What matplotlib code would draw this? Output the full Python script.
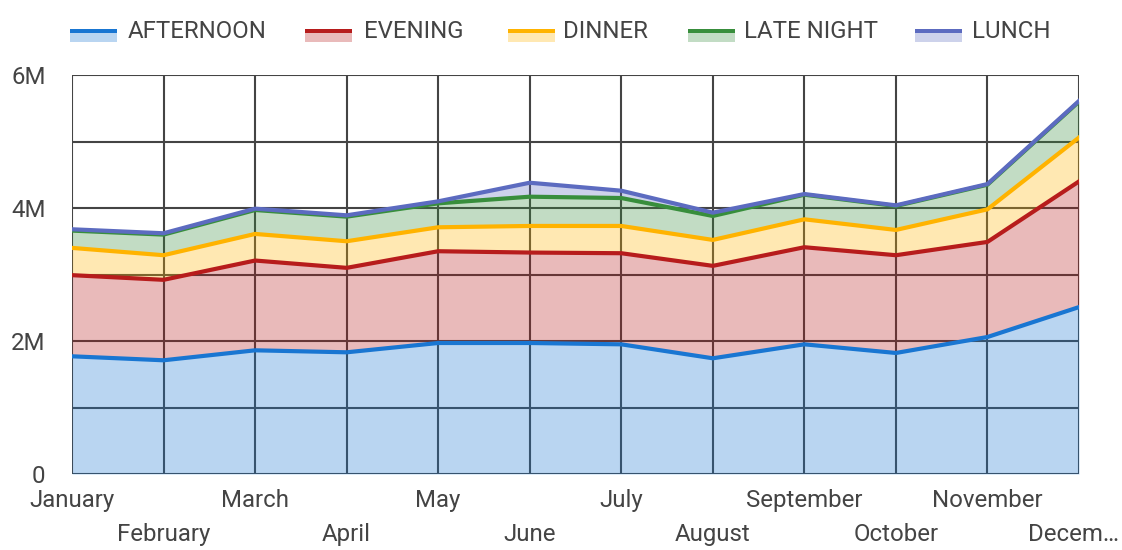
import matplotlib
matplotlib.use("Agg")
import matplotlib.pyplot as plt
import matplotlib.transforms as mtransforms
from matplotlib.patches import Rectangle
import numpy as np

months = ["January", "February", "March", "April", "May", "June", "July",
          "August", "September", "October", "November", "Decem\u2026"]
series_names = ["AFTERNOON", "EVENING", "DINNER", "LATE NIGHT", "LUNCH"]
afternoon = [1.77, 1.71, 1.86, 1.83, 1.97, 1.97, 1.95, 1.74, 1.95, 1.82, 2.06, 2.51]
evening = [1.22, 1.21, 1.35, 1.27, 1.38, 1.36, 1.37, 1.39, 1.46, 1.47, 1.43, 1.89]
dinner = [0.41, 0.37, 0.40, 0.40, 0.36, 0.40, 0.41, 0.39, 0.42, 0.38, 0.49, 0.66]
late_night = [0.26, 0.31, 0.36, 0.37, 0.36, 0.44, 0.42, 0.36, 0.37, 0.36, 0.37, 0.54]
lunch = [0.02, 0.02, 0.02, 0.02, 0.03, 0.21, 0.11, 0.05, 0.01, 0.01, 0.01, 0.01]
yticks = [0, 2, 4, 6]
ytick_labels = ["0", "2M", "4M", "6M"]

line_colors = ["#1976d2", "#b71c1c", "#ffb300", "#388e3c", "#5c6bc0"]

plt.rcParams['font.family'] = ['Roboto', 'DejaVu Sans']
TXT = "#444444"
FS = 17.3

W, H = 1122, 550
fig = plt.figure(figsize=(W / 100, H / 100), dpi=100)
ax = fig.add_axes([72 / W, 1 - 474 / H, (1079 - 72) / W, (474 - 75) / H])

x = np.arange(len(months))
data = np.array([afternoon, evening, dinner, late_night, lunch])
cum = np.cumsum(data, axis=0)

# grid
ax.set_xlim(0, len(months) - 1)
ax.set_ylim(0, 6)
for v in range(0, 7):
    ax.axhline(v, color="#444444", lw=1.5, zorder=0.5)
for xi in x:
    ax.axvline(xi, color="#444444", lw=1.5, zorder=0.5)

prev = np.zeros(len(months))
for i in range(len(series_names)):
    ax.fill_between(x, prev, cum[i], color=line_colors[i], alpha=0.3,
                    lw=0, zorder=1 + i * 0.01)
    prev = cum[i]
for i in range(len(series_names)):
    ax.plot(x, cum[i], color=line_colors[i], lw=3, zorder=3 + i * 0.01,
            solid_joinstyle="round")

for s in ax.spines.values():
    s.set_visible(False)

ax.set_yticks(yticks, ytick_labels)
ax.tick_params(axis="y", length=0, pad=19, labelsize=FS, labelcolor=TXT)
ax.set_xticks(x[0::2], months[0::2])
ax.set_xticks(x[1::2], months[1::2], minor=True)
ax.tick_params(axis="x", which="both", length=0, labelsize=FS, labelcolor=TXT)
ax.tick_params(axis="x", which="major", pad=11)
ax.tick_params(axis="x", which="minor", pad=35)

# nudge the truncated last label so it stays inside the canvas
last = ax.get_xticklabels(minor=True)[-1]
last.set_transform(last.get_transform() +
                   mtransforms.ScaledTranslation(-6 / 100, 0, fig.dpi_scale_trans))

# legend (drawn manually)
sw_x = [70, 305, 508, 688, 915]
tx_x = [128, 364, 563, 744, 972]
for i, name in enumerate(series_names):
    fig.add_artist(Rectangle((sw_x[i] / W, 1 - 42 / H), 47 / W, 12 / H,
                             transform=fig.transFigure, facecolor=line_colors[i],
                             alpha=0.3, lw=0))
    fig.add_artist(Rectangle((sw_x[i] / W, 1 - 33 / H), 47 / W, 4 / H,
                             transform=fig.transFigure, facecolor=line_colors[i],
                             lw=0))
    fig.text(tx_x[i] / W, 1 - 32 / H, name, fontsize=FS, color=TXT,
             va="center", ha="left")

fig.savefig("out.png", dpi=100)
